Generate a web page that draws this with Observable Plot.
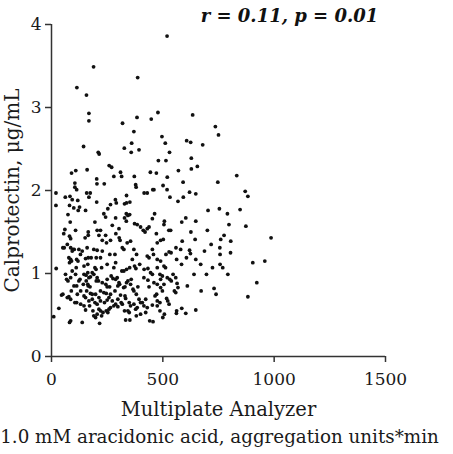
<!DOCTYPE html>
<html>
<head>
<meta charset="utf-8">
<script src="https://cdn.jsdelivr.net/npm/d3@7"></script>
<script src="https://cdn.jsdelivr.net/npm/@observablehq/plot@0.6"></script>
<style>
  html, body { margin: 0; padding: 0; background: #fff; }
</style>
</head>
<body>
<div id="chart"></div>
<script>
const aggregation = [519,189,387,114,157,168,168,478,384,448,319,634,736,750,370,144,360,327,393,358,496,511,530,607,625,679,210,214,628,480,514,655,628,259,270,160,109,90,310,315,280,372,444,471,570,520,832,747,203,204,237,105,105,20,20,62,83,93,118,113,158,174,168,203,287,291,328,337,352,337,378,380,416,430,455,460,501,532,519,568,592,591,648,620,870,882,703,847,754,790,797,873,986,81,100,126,120,153,74,84,60,55,108,81,86,165,165,151,195,205,220,235,243,253,265,288,273,303,336,343,351,328,336,373,385,400,412,420,438,430,453,463,471,507,505,527,535,502,490,585,603,626,648,700,645,587,580,559,620,687,717,760,775,805,756,804,757,648,624,606,562,584,528,537,514,475,453,458,430,438,370,382,363,318,325,340,355,304,308,289,247,262,285,228,201,220,165,178,153,130,96,102,71,51,57,78,86,90,81,113,119,146,21,111,163,195,200,225,250,288,280,316,325,337,351,373,379,396,416,433,475,445,453,487,498,520,531,538,546,558,564,568,552,558,610,640,670,696,723,757,769,792,904,958,922,882,730,739,672,648,603,585,562,561,507,500,528,475,487,465,517,522,498,490,460,475,490,505,433,438,415,423,408,415,430,423,441,456,393,400,381,366,370,388,355,337,343,358,324,330,303,306,298,295,288,268,276,250,244,250,261,228,205,211,190,220,235,246,258,265,285,310,330,333,349,355,370,385,343,349,328,333,352,381,298,288,280,265,258,246,253,231,213,220,205,225,190,198,216,186,171,195,205,183,213,220,198,175,183,158,165,173,156,143,128,131,116,113,131,146,153,138,86,81,33,10,45,51,71,78,86,105,89,101,68,74,86,63,93,108,123,113,146,155,168,175,163,183,201,163,146,153,168,238,250,273,298,313,318,378,400,453,475,487,472,86,93,123,138,160,190,205,228,265,243,213,475,490,505,512];
const calprotectin = [3.86,3.49,3.36,3.24,3.15,2.93,2.84,2.94,2.88,2.86,2.81,2.91,2.77,2.67,2.71,2.53,2.57,2.51,2.49,2.46,2.65,2.57,2.46,2.60,2.58,2.55,2.46,2.44,2.39,2.36,2.36,2.29,2.26,2.30,2.28,2.25,2.24,2.21,2.22,2.17,2.17,2.17,2.22,2.21,2.24,2.16,2.18,2.10,2.14,2.08,2.08,2.09,2.04,1.97,1.82,1.92,1.93,1.89,1.88,2.01,1.97,1.97,1.92,1.86,1.89,1.85,1.84,1.85,1.86,1.94,2.07,2.04,1.97,1.97,2.01,2.01,2.06,1.92,2.01,1.87,1.92,2.10,1.96,1.98,1.99,1.93,1.76,1.77,1.78,1.72,1.59,1.57,1.43,1.82,1.79,1.80,1.76,1.76,1.71,1.62,1.53,1.48,1.52,1.45,1.42,1.50,1.46,1.43,1.62,1.52,1.52,1.72,1.68,1.78,1.83,1.67,1.58,1.54,1.72,1.70,1.71,1.67,1.63,1.60,1.59,1.56,1.52,1.50,1.56,1.54,1.66,1.72,1.48,1.63,1.59,1.52,1.52,1.41,1.40,1.62,1.67,1.50,1.63,1.52,1.41,1.39,1.29,1.31,1.28,1.27,1.35,1.41,1.46,1.39,1.31,1.25,1.23,1.17,1.24,1.19,1.17,1.11,1.26,1.25,1.23,1.37,1.29,1.23,1.21,1.19,1.29,1.23,1.17,1.31,1.29,1.37,1.39,1.43,1.40,1.48,1.37,1.23,1.23,1.27,1.19,1.19,1.19,1.19,1.18,1.23,1.29,1.29,1.35,1.31,1.31,1.19,1.17,1.15,1.13,1.17,1.15,1.09,1.06,1.07,1.11,1.07,1.05,1.07,1.11,1.13,1.07,1.03,1.03,1.05,1.07,1.09,1.06,1.11,1.05,1.06,1.07,1.01,0.99,0.99,0.97,0.95,0.93,0.91,0.99,0.95,0.88,0.83,0.79,0.77,0.85,0.99,1.11,0.99,1.07,1.11,1.07,0.99,1.13,1.15,0.89,0.72,0.82,0.75,0.79,0.56,0.52,0.58,0.55,0.52,0.51,0.47,0.63,0.67,0.65,0.73,0.70,0.67,0.79,0.83,0.89,0.87,0.93,0.87,0.92,0.84,0.95,0.69,0.65,0.61,0.59,0.53,0.43,0.42,0.69,0.65,0.75,0.81,0.79,0.84,0.87,0.89,0.91,0.93,0.83,0.84,0.89,0.87,0.85,0.95,0.93,0.97,0.94,0.93,0.87,0.84,0.84,0.89,0.95,0.91,0.99,0.79,0.77,0.76,0.71,0.75,0.79,0.74,0.73,0.70,0.65,0.61,0.63,0.59,0.55,0.53,0.55,0.44,0.44,0.49,0.60,0.63,0.61,0.59,0.57,0.55,0.53,0.53,0.57,0.55,0.51,0.49,0.49,0.47,0.40,0.55,0.61,0.65,0.63,0.69,0.71,0.67,0.75,0.76,0.75,0.79,0.85,0.84,0.91,0.87,0.93,0.79,0.75,0.65,0.63,0.61,0.56,0.41,0.43,0.41,0.58,0.48,0.74,0.75,0.71,0.72,0.69,0.65,0.79,0.85,0.93,0.91,0.95,0.99,1.03,0.99,0.91,0.85,0.99,0.98,0.95,0.96,1.01,1.01,0.91,0.87,0.73,0.71,0.67,0.65,0.68,0.67,0.69,0.65,0.63,0.57,0.51,0.62,0.61,0.55,0.75,1.31,1.27,1.29,1.27,1.31,1.29,1.28,1.40,1.40,1.46,1.46,1.17,1.15,1.09,1.07];

const xTicks = [0, 500, 1000, 1500];
const yTicks = [0, 1, 2, 3, 4];
const xLabelLine1 = "Multiplate Analyzer";
const xLabelLine2 = "1.0 mM aracidonic acid, aggregation units*min";
const yLabel = "Calprotectin, μg/mL";
const annotation = "r = 0.11, p = 0.01";

const points = aggregation.map((x, i) => ({x, y: calprotectin[i]}));
const axisColor = "#333";

const chart = Plot.plot({
  width: 453,
  height: 454,
  marginLeft: 51,
  marginRight: 68,
  marginTop: 24,
  marginBottom: 98,
  style: {fontFamily: "DejaVu Serif", fontSize: "17px", color: "#1a1a1a", background: "#fff"},
  x: {domain: [0, 1500]},
  y: {domain: [0, 4]},
  marks: [
    Plot.axisX({ticks: xTicks, tickSize: 6, tickPadding: 10, label: null, stroke: axisColor, strokeWidth: 1.5, tickFormat: d => String(d)}),
    Plot.axisY({ticks: yTicks, tickSize: 6, tickPadding: 4, label: null, stroke: axisColor, strokeWidth: 1.5, tickFormat: d => String(d)}),
    Plot.ruleX([0], {y1: yTicks[0], y2: yTicks[yTicks.length - 1], stroke: axisColor, strokeWidth: 1.5}),
    Plot.ruleY([0], {x1: xTicks[0], x2: xTicks[xTicks.length - 1], stroke: axisColor, strokeWidth: 1.5}),
    Plot.dot(points, {x: "x", y: "y", r: 1.9, fill: "#111", stroke: null}),
    Plot.text([xLabelLine1], {frameAnchor: "bottom", lineAnchor: "middle", textAnchor: "middle", dy: 53, fontSize: 19.5, fill: "#1a1a1a"}),
    Plot.text([xLabelLine2], {frameAnchor: "bottom", lineAnchor: "middle", textAnchor: "middle", dx: 1, dy: 81, fontSize: 18.3, fill: "#1a1a1a"}),
    Plot.text([yLabel], {frameAnchor: "left", lineAnchor: "middle", textAnchor: "middle", rotate: -90, dx: -39, fontSize: 20, fill: "#1a1a1a"}),
    Plot.text([annotation], {frameAnchor: "top", lineAnchor: "middle", textAnchor: "middle", dx: 71, dy: -8, fontSize: 18, fontWeight: "bold", fontStyle: "italic", fill: "#111"})
  ]
});
document.getElementById("chart").appendChild(chart);
</script>
</body>
</html>
